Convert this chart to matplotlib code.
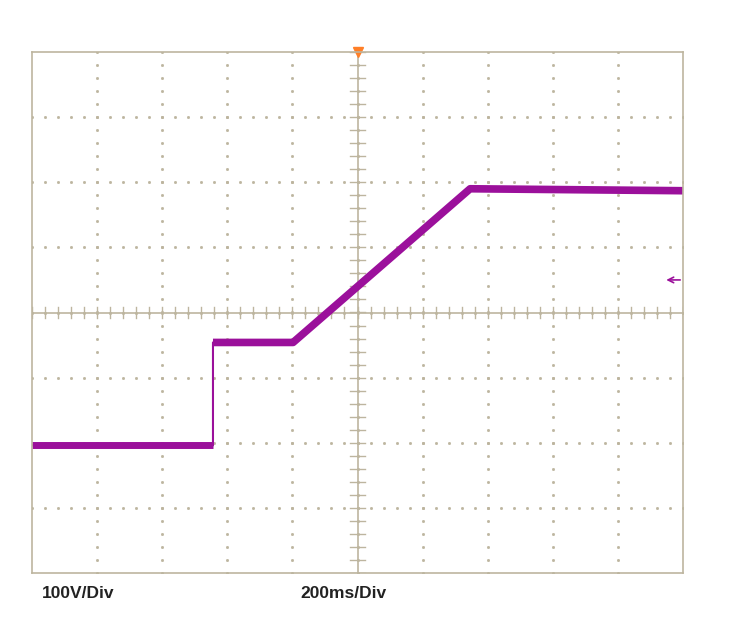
import numpy as np
import matplotlib
matplotlib.use("Agg")
import matplotlib.pyplot as plt

# trace breakpoints (time in ms, voltage in V), 200 ms/div, 100 V/div
t_ms = [0, 556, 556, 802, 1346, 2000]
v_volt = [-204, -204, -46, -46, 190, 187]

T_DIV = 200.0
V_DIV = 100.0
GRID = "#bdb59f"
TRACE = "#9b109b"

fig = plt.figure(figsize=(7.44, 6.25), dpi=100)
ax = fig.add_axes([32 / 744, 52 / 625, 651 / 744, 521 / 625])
ax.set_xlim(0, 10)
ax.set_ylim(-4, 4)
ax.set_xticks([])
ax.set_yticks([])
for s in ax.spines.values():
    s.set_color(GRID)
    s.set_linewidth(1.2)

# dotted grid: dots every 1/5 div along each major line
minor = np.arange(0, 10.01, 0.2)
minor_y = np.arange(-4, 4.01, 0.2)
for gx in range(1, 10):
    ax.plot(np.full_like(minor_y, gx), minor_y, ls="none", marker="s", ms=1.0, color=GRID)
for gy in range(-3, 4):
    ax.plot(minor, np.full_like(minor, gy), ls="none", marker="s", ms=1.0, color=GRID)

# center cross with tick marks
ax.axhline(0, color=GRID, lw=1.2)
ax.axvline(5, color=GRID, lw=1.2)
for mx in minor:
    ax.plot([mx, mx], [-0.08, 0.08], color=GRID, lw=1)
for my in minor_y:
    ax.plot([4.88, 5.12], [my, my], color=GRID, lw=1)

x = np.array(t_ms) / T_DIV
y = np.array(v_volt) / V_DIV
# thick noisy-looking band on flat/ramp segments, thin vertical step
ax.plot(x[:2], y[:2], color=TRACE, lw=5, solid_capstyle="butt")
ax.plot(x[2:], y[2:], color=TRACE, lw=5.5, solid_capstyle="butt")
ax.plot(x, y, color=TRACE, lw=1.5)

# trigger marker and level arrow
ax.plot([5], [4], marker="v", ms=7, color="#ff7f27", clip_on=False)
ax.annotate("", xy=(9.7, 0.5), xytext=(10.0, 0.5),
            arrowprops=dict(arrowstyle="->", color=TRACE, lw=1.2))

fig.text(42 / 744, 1 - 594 / 625, "100V/Div", fontsize=12.5, fontweight="bold",
         family="Liberation Sans", va="center", ha="left", color="#222222")
fig.text(300 / 744, 1 - 594 / 625, "200ms/Div", fontsize=12.5, fontweight="bold",
         family="Liberation Sans", va="center", ha="left", color="#222222")

fig.savefig("out.png", dpi=100)
